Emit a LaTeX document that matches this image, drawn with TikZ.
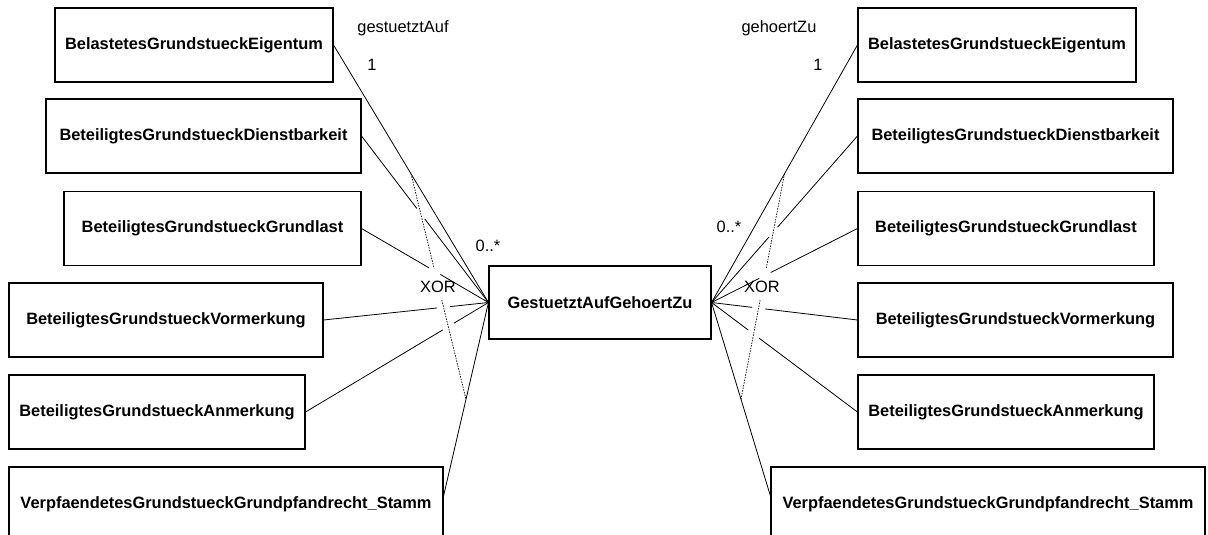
\documentclass[tikz,border=0pt]{standalone}
\usepackage{fontspec}
\setmainfont{Liberation Sans}
\usetikzlibrary{calc}
% association broken by a short gap where it crosses the XOR constraint line
\newcommand\splitlink[3]{%
  \draw[assoc] (#1) -- ($(#3)!6.5pt!(#1)$) ($(#3)!6.5pt!(#2)$) -- (#2);}
\begin{document}
\begin{tikzpicture}[x=1pt,y=-1pt,
  cls/.style={draw=black, line width=1.1pt, minimum height=74pt, inner sep=0pt,
    font=\fontsize{16.4}{19}\selectfont\bfseries},
  assoc/.style={draw=black, line width=0.8pt},
  lbl/.style={font=\fontsize{16.4}{19}\selectfont, inner sep=0pt},
  xorline/.style={draw=black, line width=0.7pt, dash pattern=on 1.5pt off 1.2pt}]
\clip (0,0) rectangle (1208,535);

% left classes
\node[cls, minimum width=278pt] (le)  at (194,45)    {BelastetesGrundstueckEigentum};
\node[cls, minimum width=315pt] (ld)  at (203.5,136) {BeteiligtesGrundstueckDienstbarkeit};
\node[cls, minimum width=297pt] (lg)  at (212.5,228.5) {BeteiligtesGrundstueckGrundlast};
\node[cls, minimum width=314pt] (lvm) at (166,320)   {BeteiligtesGrundstueckVormerkung};
\node[cls, minimum width=296pt] (la)  at (157,412)   {BeteiligtesGrundstueckAnmerkung};
\node[cls, minimum width=434pt] (lp)  at (226,504)   {VerpfaendetesGrundstueckGrundpfandrecht\_Stamm};

% association class
\node[cls, minimum width=222pt, minimum height=73pt] (c) at (600,302.5) {GestuetztAufGehoertZu};

% right classes
\node[cls, minimum width=278pt] (re)  at (997,45)     {BelastetesGrundstueckEigentum};
\node[cls, minimum width=315pt] (rd)  at (1015.5,136) {BeteiligtesGrundstueckDienstbarkeit};
\node[cls, minimum width=296pt] (rg)  at (1006,228.5) {BeteiligtesGrundstueckGrundlast};
\node[cls, minimum width=315pt] (rvm) at (1015.5,320) {BeteiligtesGrundstueckVormerkung};
\node[cls, minimum width=296pt] (ra)  at (1006,412)   {BeteiligtesGrundstueckAnmerkung};
\node[cls, minimum width=434pt] (rp)  at (988,504)    {VerpfaendetesGrundstueckGrundpfandrecht\_Stamm};

% attachment points
\coordinate (cw) at (c.west);
\coordinate (ce) at (c.east);
\coordinate (lpx) at ($(lp.east)+(0,-8)$);
\coordinate (rpx) at ($(rp.west)+(0,-8)$);
\coordinate (ald) at (ld.east);  \coordinate (alg) at (lg.east);
\coordinate (alv) at (lvm.east); \coordinate (ala) at (la.east);
\coordinate (ard) at (rd.west);  \coordinate (arg) at (rg.west);
\coordinate (arv) at (rvm.west); \coordinate (ara) at (ra.west);

% XOR constraint ends: midpoints of the outer associations
\coordinate (xl1) at ($(cw)!0.5!(le.east)$);
\coordinate (xl2) at ($(cw)!0.5!(lpx)$);
\coordinate (xr1) at ($(ce)!0.5!(re.west)$);
\coordinate (xr2) at ($(ce)!0.5!(rpx)$);

% crossings with the constraint line
\coordinate (ild) at (intersection of ald--cw and xl1--xl2);
\coordinate (ilg) at (intersection of alg--cw and xl1--xl2);
\coordinate (ilv) at (intersection of alv--cw and xl1--xl2);
\coordinate (ila) at (intersection of ala--cw and xl1--xl2);
\coordinate (ird) at (intersection of ard--ce and xr1--xr2);
\coordinate (irg) at (intersection of arg--ce and xr1--xr2);
\coordinate (irv) at (intersection of arv--ce and xr1--xr2);
\coordinate (ira) at (intersection of ara--ce and xr1--xr2);

% associations, left
\draw[assoc] (le.east) -- (cw);
\splitlink{ald}{cw}{ild}
\splitlink{alg}{cw}{ilg}
\splitlink{alv}{cw}{ilv}
\splitlink{ala}{cw}{ila}
\draw[assoc] (lpx) -- (cw);

% associations, right
\draw[assoc] (re.west) -- (ce);
\splitlink{ard}{ce}{ird}
\splitlink{arg}{ce}{irg}
\splitlink{arv}{ce}{irv}
\splitlink{ara}{ce}{ira}
\draw[assoc] (rpx) -- (ce);

% XOR constraints
\draw[xorline] (xl1) -- ($(xl1)!0.42!(xl2)$) ($(xl1)!0.56!(xl2)$) -- (xl2);
\draw[xorline] (xr1) -- ($(xr1)!0.42!(xr2)$) ($(xr1)!0.56!(xr2)$) -- (xr2);
\node[lbl] (xorl) at (438,287) {XOR};
\node[lbl] (xorr) at (762,287) {XOR};

% role names and multiplicities
\node[lbl] (rolel) at (403,28) {gestuetztAuf};
\node[lbl] (onel)  at (372,65) {1};
\node[lbl] (manyl) at (488,246) {0..*};
\node[lbl] (roler) at (779,28) {gehoertZu};
\node[lbl] (oner)  at (818,65) {1};
\node[lbl] (manyr) at (729,227) {0..*};
\end{tikzpicture}
\end{document}
